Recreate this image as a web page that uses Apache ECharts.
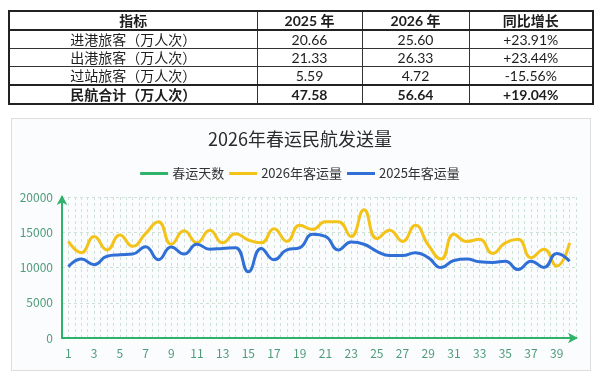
<!DOCTYPE html>
<html>
<head>
<meta charset="utf-8">
<script src="https://cdn.jsdelivr.net/npm/echarts@6/dist/echarts.min.js"></script>
<style>
  html, body { margin: 0; padding: 0; width: 600px; height: 378px; background: #ffffff; overflow: hidden; }
  #panel { position: absolute; left: 11px; top: 118px; width: 578px; height: 251px; border: 1px solid #dedede; background: #fbfcfe; }
  #chart { position: absolute; left: 0; top: 0; width: 600px; height: 378px; }
  table { position: absolute; left: 8px; top: 10px; width: 584px; height: 90px; border-collapse: collapse; table-layout: fixed;
          font-family: "Lato", "Noto Sans CJK SC", sans-serif; font-size: 14px; color: #1e1e1e; border: 2px solid #222; z-index: 2; }
  td, th { border: 1px solid #333; text-align: center; padding: 0; height: 17px; line-height: 16px; font-weight: normal; }
  th, tr.total td { font-weight: bold; }
  tr.head th { border-bottom: 2px solid #222; }
  tr.total td { border-top: 2px solid #222; }
</style>
</head>
<body>
<div id="panel"></div>
<div id="chart"></div>
<table id="tbl">
  <colgroup><col style="width:248px"><col style="width:105px"><col style="width:107px"><col style="width:124px"></colgroup>
</table>
<script>
// ---- table data ----
var tableHeader = ['指标', '2025 年', '2026 年', '同比增长'];
var rowNames = ['进港旅客（万人次）', '出港旅客（万人次）', '过站旅客（万人次）', '民航合计（万人次）'];
var values2025 = ['20.66', '21.33', '5.59', '47.58'];
var values2026 = ['25.60', '26.33', '4.72', '56.64'];
var growth = ['+23.91%', '+23.44%', '-15.56%', '+19.04%'];

// ---- chart data ----
var chartTitle = '2026年春运民航发送量';
var seriesNames = ['春运天数', '2026年客运量', '2025年客运量'];
var days = [];
for (var d = 1; d <= 40; d++) days.push(String(d));
var gridCats = [];
for (var g = 0; g < 80; g++) gridCats.push(String(g));
var yTicks = [0, 5000, 10000, 15000, 20000];
var pax2026 = [13700, 12100, 14400, 12500, 14600, 13000, 14800, 16500, 13300, 15200,
               13500, 15300, 13500, 14800, 13900, 13500, 15500, 13700, 16000, 15400,
               16500, 16500, 14400, 18200, 14100, 15300, 13700, 16000, 13200, 11200,
               14700, 13700, 14000, 12000, 13500, 14000, 11400, 12600, 10200, 13500];
var pax2025 = [10100, 11200, 10400, 11600, 11800, 11900, 12950, 11100, 12900, 11900,
               13300, 12600, 12700, 12800, 9400, 12700, 11100, 12500, 12800, 14700,
               14400, 12500, 13600, 13300, 12300, 11700, 11700, 12100, 11400, 10000,
               11000, 11200, 10800, 10700, 10900, 9700, 10900, 10000, 12000, 10900];

// build table
var tbl = document.getElementById('tbl');
var html = '<tr class="head">' + tableHeader.map(function (h) { return '<th>' + h + '</th>'; }).join('') + '</tr>';
for (var i = 0; i < rowNames.length; i++) {
  html += '<tr' + (i === rowNames.length - 1 ? ' class="total"' : '') + '><td>' + rowNames[i] + '</td><td>' + values2025[i] +
          '</td><td>' + values2026[i] + '</td><td>' + growth[i] + '</td></tr>';
}
tbl.insertAdjacentHTML('beforeend', html);

var green = '#2fb36b';
var chart = echarts.init(document.getElementById('chart'), null, { renderer: 'canvas' });
var gridLine = { show: true, lineStyle: { color: '#cfe0d7', type: [3, 3], width: 1 } };
chart.setOption({
  backgroundColor: 'transparent',
  animation: false,
  textStyle: { fontFamily: '"Noto Sans CJK SC", "Noto Sans", sans-serif' },
  title: {
    text: chartTitle, left: 'center', top: 125,
    textStyle: { fontSize: 18, fontWeight: 'normal', color: '#2b2b2b', fontFamily: '"Noto Sans CJK SC", sans-serif' }
  },
  legend: {
    top: 162, left: 'center', icon: 'rect', itemWidth: 28, itemHeight: 3, itemGap: 5,
    textStyle: { fontSize: 13, color: '#333', padding: [0, 0, 0, -1] },
    data: seriesNames
  },
  grid: { left: 62, right: 24, top: 197, bottom: 40 },
  xAxis: [{
    type: 'category', data: days, boundaryGap: true,
    axisLine: { show: true, symbol: ['none', 'arrow'], symbolSize: [8, 10], symbolOffset: [0, 2], lineStyle: { color: green, width: 2 } },
    axisTick: { show: false },
    axisLabel: { interval: 1, color: '#4f9c78', fontSize: 12, margin: 9 },
    splitLine: { show: false }
  }, {
    type: 'category', data: gridCats, boundaryGap: true, position: 'bottom',
    axisLine: { show: false }, axisTick: { show: false }, axisLabel: { show: false },
    splitLine: { show: true, interval: 0, lineStyle: { color: '#cfe0d7', type: [3, 3], width: 1 } }
  }],
  yAxis: {
    type: 'value', min: yTicks[0], max: yTicks[yTicks.length - 1], interval: yTicks[1] - yTicks[0],
    axisLine: { show: true, symbol: ['none', 'arrow'], symbolSize: [8, 10], symbolOffset: [0, 2], lineStyle: { color: green, width: 2 } },
    axisTick: { show: false },
    axisLabel: { color: '#4f9c78', fontSize: 12, margin: 9, formatter: function (v) { return String(v); } },
    splitLine: gridLine
  },
  series: [
    { name: seriesNames[0], type: 'line', data: [], color: green, lineStyle: { width: 3 } },
    { name: seriesNames[1], type: 'line', data: pax2026, smooth: true, showSymbol: false, color: '#f3c31a', lineStyle: { width: 3 } },
    { name: seriesNames[2], type: 'line', data: pax2025, smooth: true, showSymbol: false, color: '#2f6fd6', lineStyle: { width: 3 } }
  ]
});
</script>
</body>
</html>
